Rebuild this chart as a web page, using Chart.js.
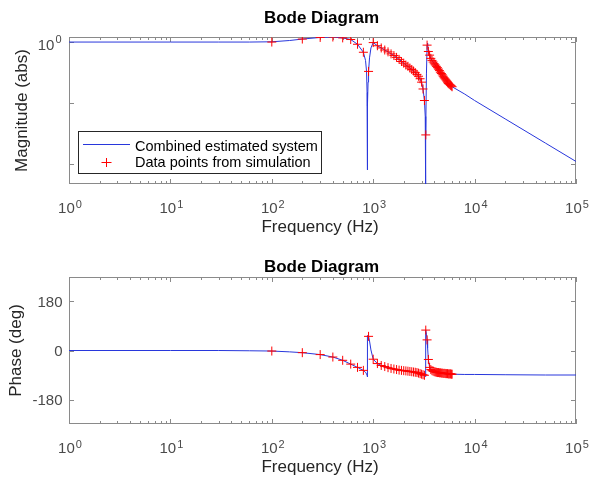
<!DOCTYPE html>
<html>
<head>
<meta charset="utf-8">
<script src="https://cdn.jsdelivr.net/npm/chart.js@4.4.0/dist/chart.umd.min.js"></script>
<style>
  html, body { margin: 0; padding: 0; background: #fff; }
  #wrap { position: relative; width: 590px; height: 479px; }
  canvas { position: absolute; left: 0; }
</style>
</head>
<body>
<div id="wrap">
  <canvas id="magChart" width="590" height="240" style="top:0"></canvas>
  <canvas id="phaseChart" width="590" height="239" style="top:240px"></canvas>
</div>
<script>
// fitted model curve (blue line)
const modelFreq = [1, 10, 30, 60, 100, 150, 200, 300, 400, 500,
  600, 700, 800, 840, 860, 870, 875, 880, 890, 900,
  920, 950, 1000, 1100, 1200, 1400, 1600, 1800, 2000, 2300,
  2600, 2800, 3000, 3100, 3200, 3260, 3285, 3300, 3350, 3400,
  3440, 3500, 3600, 3700, 3800, 4000, 4500, 5000, 5500, 6000,
  8000, 10000, 20000, 50000, 100000];
const modelMag = [1.0, 1.0, 1.0, 1.0, 1.01, 1.06, 1.12, 1.19, 1.21, 1.17,
  1.10, 0.92, 0.68, 0.50, 0.33, 0.15, 0.008, 0.09, 0.22, 0.33,
  0.55, 0.80, 0.98, 0.87, 0.80, 0.69, 0.60, 0.52, 0.45, 0.375,
  0.315, 0.275, 0.22, 0.17, 0.11, 0.06, 0.003, 0.03, 0.30, 0.89,
  0.96, 0.70, 0.61, 0.54, 0.50, 0.44, 0.34, 0.26, 0.21, 0.185,
  0.14, 0.11, 0.055, 0.022, 0.011];
const modelPhase = [0, 0, 0, -1, -2, -5, -8, -15, -24, -36,
  -50, -62, -73, -80, -86, -91, -97, 55, 54, 52,
  35, 2, -32, -48, -55, -63, -68, -72, -74, -77,
  -80, -83, -87, -89, -91, -93, -96, 75, 60, 39,
  10, -33, -62, -70, -74, -78, -82, -84, -86, -87,
  -88, -88, -89, -90, -90];

// simulation data points (red +)
const simFreq = [100, 200, 300, 400, 500, 600, 700, 800, 900, 1000,
  1100, 1200, 1300, 1400, 1500, 1600, 1700, 1800, 1900, 2000,
  2100, 2200, 2300, 2400, 2500, 2600, 2700, 2800, 2900, 3000,
  3100, 3200, 3300, 3400, 3500, 3600, 3700, 3800, 3900, 4000,
  4100, 4200, 4300, 4400, 4500, 4600, 4700, 4800, 4900, 5000,
  5100, 5200, 5300, 5400, 5500, 5600, 5700, 5800, 5900, 6000];
const simMag = [1.00, 1.12, 1.19, 1.21, 1.17, 1.10, 0.92, 0.68, 0.33, 0.98,
  0.87, 0.80, 0.74, 0.69, 0.64, 0.60, 0.56, 0.52, 0.48, 0.45,
  0.42, 0.40, 0.375, 0.355, 0.335, 0.315, 0.295, 0.275, 0.25, 0.22,
  0.17, 0.11, 0.03, 0.89, 0.70, 0.61, 0.54, 0.50, 0.47, 0.44,
  0.42, 0.40, 0.38, 0.36, 0.34, 0.32, 0.305, 0.29, 0.275, 0.26,
  0.25, 0.24, 0.23, 0.22, 0.21, 0.205, 0.20, 0.195, 0.19, 0.185];
const simPhase = [-2, -8, -15, -24, -36, -50, -62, -73, 52, -32,
  -48, -55, -59, -63, -66, -68, -70, -72, -73, -74,
  -75, -76, -77, -78, -79, -80, -81, -83, -85, -87,
  -89, -91, 75, 39, -33, -62, -70, -74, -76, -78,
  -79, -80, -81, -81, -82, -82, -83, -83, -84, -84,
  -84, -85, -85, -85, -86, -86, -86, -86, -87, -87];

const freqTicks = [1, 10, 100, 1000, 10000, 100000];
const freqTickLabels = ['10^0', '10^1', '10^2', '10^3', '10^4', '10^5'];
const magTicks = [0.01, 0.1, 1];
const magTickLabels = ['', '', '10^0'];
const phaseTicks = [-180, 0, 180];
const phaseTickLabels = ['-180', '0', '180'];
const legendLabels = ['Combined estimated system', 'Data points from simulation'];

const FONT = '"Liberation Sans", Arial, Helvetica, sans-serif';
const LINE_BLUE = 'rgb(40, 55, 220)';
const MARK_RED = 'rgb(255, 0, 0)';

// minor ticks 1..9 per decade (axis decoration only)
const minorFreqTicks = [];
for (let e = 0; e < 5; e++) {
  for (let m = 1; m < 10; m++) minorFreqTicks.push(m * Math.pow(10, e));
}
minorFreqTicks.push(100000);

// "10^3" -> 10 with a raised exponent
function drawPow(ctx, label, x, y, align, raise) {
  const parts = label.split('^');
  ctx.font = '15px ' + FONT;
  const wBase = ctx.measureText(parts[0]).width;
  let wExp = 0;
  if (parts[1] !== undefined) {
    ctx.font = '11px ' + FONT;
    wExp = ctx.measureText(parts[1]).width + 1;
  }
  const left = align === 'right' ? x - wBase - wExp : x - (wBase + wExp) / 2;
  ctx.textAlign = 'left';
  ctx.textBaseline = 'alphabetic';
  ctx.font = '15px ' + FONT;
  ctx.fillText(parts[0], left, y);
  if (parts[1] !== undefined) {
    ctx.font = '11px ' + FONT;
    ctx.fillText(parts[1], left + wBase + 1, y - raise);
  }
}

function drawLegend(ctx) {
  ctx.save();
  ctx.fillStyle = '#fff';
  ctx.fillRect(79, 132, 242, 41);
  ctx.strokeStyle = '#262626';
  ctx.lineWidth = 1;
  ctx.strokeRect(78.5, 131.5, 243, 42);
  ctx.strokeStyle = LINE_BLUE;
  ctx.beginPath();
  ctx.moveTo(83, 144.5);
  ctx.lineTo(130, 144.5);
  ctx.stroke();
  ctx.strokeStyle = MARK_RED;
  ctx.beginPath();
  ctx.moveTo(101.5, 162.5); ctx.lineTo(111.5, 162.5);
  ctx.moveTo(106.5, 158); ctx.lineTo(106.5, 167);
  ctx.stroke();
  ctx.fillStyle = '#000';
  ctx.font = '14.5px ' + FONT;
  ctx.textAlign = 'left';
  ctx.textBaseline = 'alphabetic';
  ctx.fillText(legendLabels[0], 135, 150.5);
  ctx.fillText(legendLabels[1], 135, 167);
  ctx.restore();
}

// matlab style box, inward ticks and labels
const bodeFrame = {
  id: 'bodeFrame',
  beforeDatasetsDraw(chart, args, o) {
    const { ctx, chartArea: a } = chart;
    const x = chart.scales.x, y = chart.scales.y;
    ctx.save();
    ctx.strokeStyle = '#8a8a8a';
    ctx.lineWidth = 1;
    ctx.beginPath();
    minorFreqTicks.forEach(v => {
      const px = Math.round(x.getPixelForValue(v)) + 0.5;
      const len = freqTicks.includes(v) ? 5 : 3;
      ctx.moveTo(px, a.bottom); ctx.lineTo(px, a.bottom - len);
      ctx.moveTo(px, a.top); ctx.lineTo(px, a.top + len);
    });
    o.yTicks.forEach(v => {
      const py = Math.round(y.getPixelForValue(v)) + 0.5;
      ctx.moveTo(a.left, py); ctx.lineTo(a.left + 5, py);
      ctx.moveTo(a.right, py); ctx.lineTo(a.right - 5, py);
    });
    ctx.stroke();
    ctx.strokeRect(a.left + 0.5, a.top + 0.5, a.right - a.left - 1, a.bottom - a.top - 1);
    ctx.restore();
  },
  afterDraw(chart, args, o) {
    const { ctx, chartArea: a } = chart;
    const x = chart.scales.x, y = chart.scales.y;
    ctx.save();
    ctx.fillStyle = '#000';
    ctx.font = 'bold 17px ' + FONT;
    ctx.textAlign = 'center';
    ctx.textBaseline = 'alphabetic';
    ctx.fillText(o.title, (a.left + a.right) / 2 - 1, o.titleBaseline);

    ctx.fillStyle = '#4a4a4a';
    freqTicks.forEach((v, i) => {
      drawPow(ctx, freqTickLabels[i], x.getPixelForValue(v) + 1, a.bottom + 29, 'center', 5);
    });
    o.yTicks.forEach((v, i) => {
      if (o.yLabels[i]) drawPow(ctx, o.yLabels[i], o.yLabelRight, y.getPixelForValue(v) + o.yLabelDrop, 'right', 7);
    });

    ctx.fillStyle = '#262626';
    ctx.font = '17px ' + FONT;
    ctx.textAlign = 'center';
    ctx.textBaseline = 'alphabetic';
    ctx.fillText('Frequency (Hz)', 320, a.bottom + 47.5);
    ctx.translate(o.yTitleX, (a.top + a.bottom) / 2);
    ctx.rotate(-Math.PI / 2);
    ctx.fillText(o.yTitle, 0, 0);
    ctx.restore();

    if (o.legend) drawLegend(ctx);
  }
};

function makeChart(id, yScale, modelY, simY, frame, bottomPad) {
  return new Chart(document.getElementById(id), {
    type: 'scatter',
    data: {
      datasets: [
        {
          label: legendLabels[1],
          data: simFreq.map((f, i) => ({ x: f, y: simY[i] })),
          showLine: false,
          pointStyle: 'cross',
          pointRadius: 4.5,
          pointHoverRadius: 4.5,
          pointBorderWidth: 1,
          pointBorderColor: MARK_RED,
          borderColor: MARK_RED,
          order: 0,
        },
        {
          label: legendLabels[0],
          data: modelFreq.map((f, i) => ({ x: f, y: modelY[i] })),
          showLine: true,
          borderColor: LINE_BLUE,
          borderWidth: 1,
          pointRadius: 0,
          pointHoverRadius: 0,
          order: 1,
        },
      ],
    },
    options: {
      responsive: false,
      animation: false,
      events: [],
      layout: { padding: { left: 69, right: 14, top: 37, bottom: bottomPad } },
      plugins: {
        legend: { display: false },
        tooltip: { enabled: false },
        bodeFrame: frame,
      },
      scales: {
        x: { type: 'logarithmic', min: 1, max: 100000, display: false },
        y: yScale,
      },
    },
    plugins: [bodeFrame],
  });
}

makeChart('magChart',
  { type: 'logarithmic', min: 0.0047, max: 1.21, display: false },
  modelMag, simMag,
  {
    title: 'Bode Diagram', titleBaseline: 23.3,
    yTicks: magTicks, yLabels: magTickLabels, yLabelRight: 61.5, yLabelDrop: 8,
    yTitle: 'Magnitude (abs)', yTitleX: 27.2, legend: true,
  }, 56);

makeChart('phaseChart',
  { type: 'linear', min: -270, max: 270, display: false },
  modelPhase, simPhase,
  {
    title: 'Bode Diagram', titleBaseline: 31.7,
    yTicks: phaseTicks, yLabels: phaseTickLabels, yLabelRight: 62.5, yLabelDrop: 5.5,
    yTitle: 'Phase (deg)', yTitleX: 21, legend: false,
  }, 55);
</script>
</body>
</html>
